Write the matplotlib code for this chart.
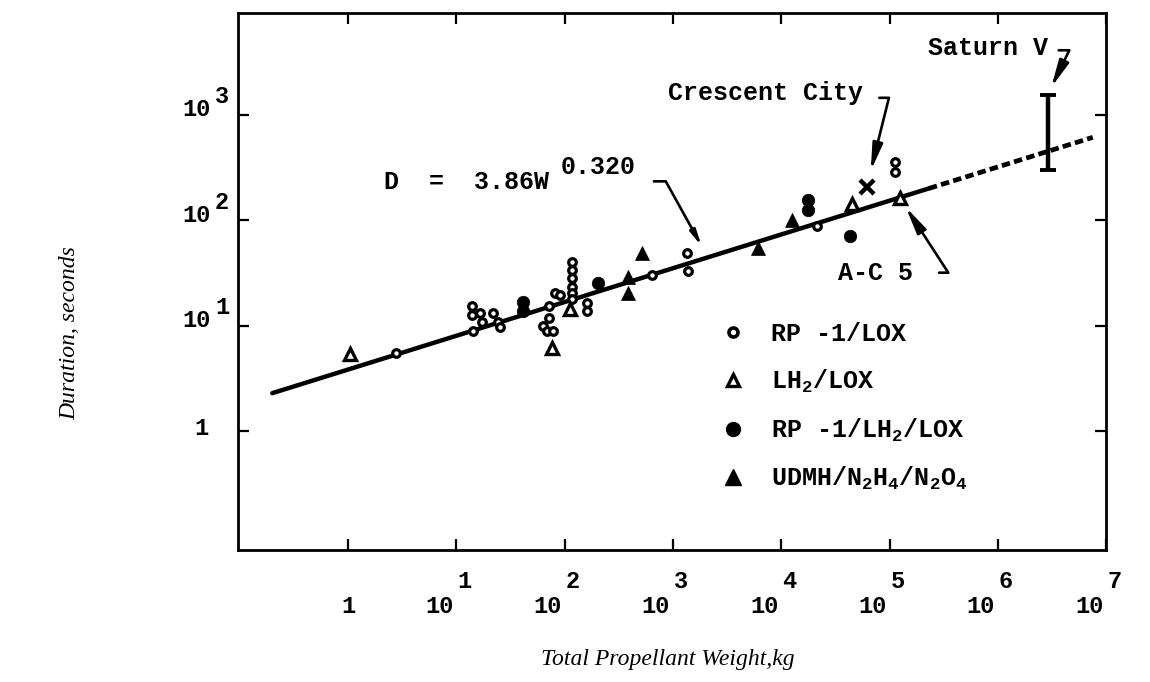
import numpy as np
import matplotlib
matplotlib.use("Agg")
import matplotlib.pyplot as plt
from matplotlib.lines import Line2D
from matplotlib.ticker import NullLocator

plt.rcParams['font.family'] = ['Liberation Mono', 'DejaVu Sans Mono']
plt.rcParams['font.weight'] = 'bold'
plt.rcParams['mathtext.fontset'] = 'custom'
plt.rcParams['mathtext.rm'] = 'Liberation Mono:bold'
plt.rcParams['mathtext.it'] = 'Liberation Mono:bold'
plt.rcParams['mathtext.bf'] = 'Liberation Mono:bold'

# propellant weight (kg) vs burn duration (s), by propellant combination
rp1_lox_w = [2.8, 13.9, 13.9, 14.2, 16.5, 17.2, 21.8, 24.2, 25.2, 63, 68.6, 71.5, 71.5,
             77.8, 81, 90, 116, 116, 116, 116, 116, 116, 160, 160, 637, 1340, 1370,
             21200, 111000, 111000]
rp1_lox_d = [5.5, 15.3, 12.8, 8.9, 13.4, 11.0, 13.4, 11.0, 9.7, 9.9, 8.9, 15.3, 12.0,
             8.9, 20.7, 19.8, 40.6, 34.1, 28.7, 23.6, 20.7, 17.8, 16.6, 13.7, 30.6, 49.4, 33.4,
             89, 358, 288]

lh2_lox_w = [1.04, 76, 112, 44700, 123600]   # last one is A-C 5
lh2_lox_d = [5.4, 6.2, 14.6, 142, 164]

rp1_lh2_w = [41, 41, 202, 17500, 17500, 42800]
rp1_lh2_d = [17.0, 13.7, 25.7, 156, 126, 71.6]

udmh_w = [383, 383, 515, 6060, 12500]
udmh_d = [29.3, 20.7, 49.4, 55, 101]

crescent_w, crescent_d = 61400, 207
saturn_w, saturn_lo, saturn_hi = 2.87e6, 302, 1545

# D = 3.86 W^0.320
fit_c, fit_k = 3.86, 0.320
fit_start, fit_solid_end, fit_dash_end = 0.2, 2.3e5, 7.5e6
eq_arrow_w = 2.1e3

xtick_exp = [0, 1, 2, 3, 4, 5, 6, 7]
ytick_exp = [0, 1, 2, 3]


def fit(w):
    return fit_c * np.asarray(w, dtype=float) ** fit_k


fig = plt.figure(figsize=(11.5, 6.82), dpi=100)
ax = fig.add_axes([0.207, 0.194, 0.755, 0.787])
ax.set_xscale('log')
ax.set_yscale('log')
ax.set_xlim(10 ** -1.015, 1e7)
ax.set_ylim(10 ** -1.12, 10 ** 3.965)

# regression line, solid over the data and dashed beyond
w_solid = np.array([fit_start, fit_solid_end])
w_dash = np.array([fit_solid_end, fit_dash_end])
ax.plot(w_solid, fit(w_solid), color='k', lw=3.2, solid_capstyle='round', zorder=2)
ax.plot(w_dash, fit(w_dash), color='k', lw=3.4, ls=(0, (1.8, 0.9)), zorder=2)

open_c = dict(marker='o', ms=5.5, mfc='white', mec='k', mew=2.3, ls='none', zorder=3)
open_t = dict(marker='^', ms=8.5, mfc='white', mec='k', mew=2.4, ls='none', zorder=3)
fill_c = dict(marker='o', ms=9, mfc='k', mec='k', mew=0.5, ls='none', zorder=3)
fill_t = dict(marker='^', ms=10.5, mfc='k', mec='k', mew=0.5, ls='none', zorder=3)

ax.plot(rp1_lox_w, rp1_lox_d, **open_c)
ax.plot(lh2_lox_w, lh2_lox_d, **open_t)
ax.plot(rp1_lh2_w, rp1_lh2_d, **fill_c)
ax.plot(udmh_w, udmh_d, **fill_t)
ax.plot([crescent_w], [crescent_d], marker='x', ms=10, mew=3.2, color='k', ls='none', zorder=3)

saturn_mid = np.sqrt(saturn_lo * saturn_hi)
ax.errorbar([saturn_w], [saturn_mid],
            yerr=[[saturn_mid - saturn_lo], [saturn_hi - saturn_mid]],
            fmt='none', ecolor='k', elinewidth=3.2, capsize=6, capthick=2.8, zorder=3)

# frame and ticks
for s in ax.spines.values():
    s.set_linewidth(2.0)
ax.set_xticks([10.0 ** e for e in xtick_exp])
ax.set_yticks([10.0 ** e for e in ytick_exp])
ax.xaxis.set_minor_locator(NullLocator())
ax.yaxis.set_minor_locator(NullLocator())
ax.tick_params(which='major', direction='in', length=8, width=1.6,
               top=True, right=True, labelbottom=False, labelleft=False)

lab = dict(fontsize=17, textcoords='offset pixels', va='center')
for e in xtick_exp:
    v = 10.0 ** e
    xy = dict(xy=(v, 0), xycoords=('data', 'axes fraction'))
    if e == 0:
        ax.annotate('1', xytext=(0, -57), ha='center', **xy, **lab)
    else:
        ax.annotate('10', xytext=(-3, -57), ha='right', **xy, **lab)
        ax.annotate(str(e), xytext=(8, -32), ha='center', **xy, **lab)
for e in ytick_exp:
    v = 10.0 ** e
    xy = dict(xy=(0, v), xycoords=('axes fraction', 'data'))
    if e == 0:
        ax.annotate('1', xytext=(-30, 3), ha='right', **xy, **lab)
    else:
        ax.annotate('10', xytext=(-27, 5), ha='right', **xy, **lab)
        ax.annotate(str(e), xytext=(-16, 18), ha='center', **xy, **lab)


# callouts: short horizontal hook, then a slanted leader to the mark
def leader(angle_b, shrink_a, shrink_b, rel_y=0.5):
    return dict(arrowstyle='-|>,head_length=0.9,head_width=0.17',
                connectionstyle=f'angle,angleA=0,angleB={angle_b},rad=0',
                color='k', lw=1.9, shrinkA=shrink_a, shrinkB=shrink_b,
                relpos=(1, rel_y))

call = dict(textcoords='offset pixels', va='center', fontsize=18)
ax.annotate('Saturn V', xy=(saturn_w, saturn_hi), xytext=(0, 47), ha='right',
            arrowprops=leader(64, 6, 6, 0.4), **call)
ax.annotate('Crescent City', xy=(crescent_w, crescent_d), xytext=(-4, 94), ha='right',
            arrowprops=leader(76, 10, 12, 0.3), **call)
ax.annotate('A-C 5', xy=(lh2_lox_w[-1], lh2_lox_d[-1]), xytext=(13, -75), ha='right',
            arrowprops=leader(-57, 17, 8), **call)

eq_xy = (eq_arrow_w, fit(eq_arrow_w))
ax.annotate('D  =  3.86W', xy=eq_xy, xytext=(-159, 75), ha='right', **call)
ax.annotate('0.320', xy=eq_xy, xytext=(-72, 90), ha='right', **call)
ax.annotate('', xy=eq_xy, xytext=(-54, 76), textcoords='offset pixels',
            arrowprops=leader(119, 0, 9))

# legend
handles = [
    Line2D([], [], marker='o', ms=6.5, mfc='white', mec='k', mew=2.6, ls='none'),
    Line2D([], [], marker='^', ms=8.5, mfc='white', mec='k', mew=2.4, ls='none'),
    Line2D([], [], marker='o', ms=10, mfc='k', mec='k', ls='none'),
    Line2D([], [], marker='^', ms=11, mfc='k', mec='k', ls='none'),
]
labels = ['RP -1/LOX', r'LH$_2$/LOX', r'RP -1/LH$_2$/LOX', r'UDMH/N$_2$H$_4$/N$_2$O$_4$']
ax.legend(handles, labels, loc='upper left', bbox_to_anchor=(0.556, 0.424),
          frameon=False, fontsize=18, borderpad=0, borderaxespad=0,
          handlelength=1.0, handletextpad=1.0, labelspacing=0.86)

fig.text(70 / 1150, 1 - 333 / 682, 'Duration, seconds', rotation=90, ha='center', va='center',
         family='Liberation Serif', style='italic', weight='normal', fontsize=17)
fig.text(668 / 1150, 1 - 660 / 682, 'Total Propellant Weight,kg', ha='center', va='center',
         family='Liberation Serif', style='italic', weight='normal', fontsize=17)

fig.savefig('out.png', dpi=100)
